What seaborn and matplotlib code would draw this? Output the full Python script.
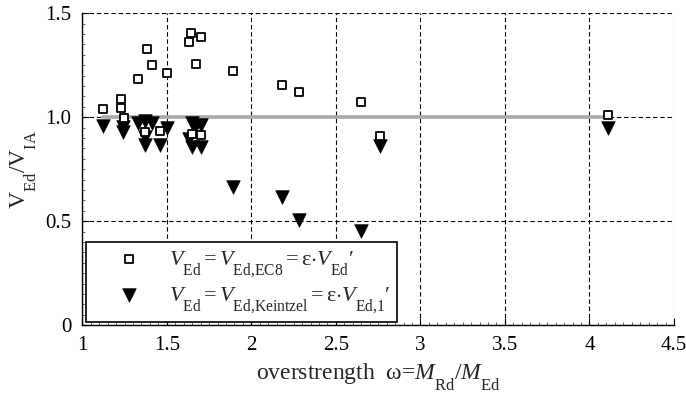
import numpy as np
import pandas as pd
import matplotlib
matplotlib.use("Agg")
import matplotlib.pyplot as plt
import matplotlib._mathtext as mtext
import seaborn as sns
from matplotlib.ticker import MultipleLocator

# data
omega_ec8 = [1.12, 1.23, 1.23, 1.245, 1.33, 1.385, 1.41, 1.50, 1.64, 1.63, 1.70, 1.67,
             1.89, 2.18, 2.28, 1.37, 1.46, 1.65, 1.70, 2.65, 2.76, 4.11]
ratio_ec8 = [1.04, 1.09, 1.045, 0.995, 1.185, 1.33, 1.25, 1.215, 1.405, 1.36, 1.385, 1.255,
             1.22, 1.155, 1.12, 0.93, 0.935, 0.92, 0.915, 1.075, 0.912, 1.01]

omega_kz = [1.125, 1.24, 1.24, 1.33, 1.37, 1.41, 1.37, 1.37, 1.46, 1.50, 1.65, 1.70,
            1.665, 1.63, 1.65, 1.70, 1.89, 2.18, 2.28, 2.65, 2.76, 4.11]
ratio_kz = [0.96, 0.952, 0.93, 0.972, 0.98, 0.972, 0.905, 0.865, 0.868, 0.948, 0.972, 0.965,
            0.955, 0.895, 0.857, 0.857, 0.666, 0.618, 0.508, 0.455, 0.86, 0.95]

x_ticks = [1, 1.5, 2, 2.5, 3, 3.5, 4, 4.5]
x_ticklabels = ["1", "1.5", "2", "2.5", "3", "3.5", "4", "4.5"]
y_ticks = [0, 0.5, 1.0, 1.5]
y_ticklabels = ["0", "0.5", "1.0", "1.5"]

lab_ec8 = r"$V_{\mathrm{Ed}}{=}V_{\mathrm{Ed{,}EC8}}{=}\mathrm{\varepsilon}{\cdot}V_{\mathrm{Ed}}$′"
lab_kz = r"$V_{\mathrm{Ed}}{=}V_{\mathrm{Ed{,}Keintzel}}{=}\mathrm{\varepsilon}{\cdot}V_{\mathrm{Ed{,}1}}$′"

df_ec8 = pd.DataFrame({"omega": omega_ec8, "ratio": ratio_ec8})
df_kz = pd.DataFrame({"omega": omega_kz, "ratio": ratio_kz})

sns.set_style("white")
plt.rcParams["font.family"] = ["Liberation Serif", "DejaVu Serif"]
plt.rcParams["mathtext.fontset"] = "custom"
plt.rcParams["mathtext.rm"] = "Liberation Serif"
plt.rcParams["mathtext.it"] = "Liberation Serif:italic"
plt.rcParams["mathtext.bf"] = "Liberation Serif:bold"
# subscripts in the reference sit lower than mathtext's default
mtext.FontConstantsBase.sub1 = 1.0

fig = plt.figure(figsize=(6.86, 4.01), dpi=100)
ax = fig.add_axes([0.120, 0.189, 0.8625, 0.778])

# reference line at 1.0 over the data range
all_x = omega_ec8 + omega_kz
ax.plot([min(all_x), max(all_x)], [1.0, 1.0], color="#aaaaaa", lw=2.6, zorder=2)

sns.scatterplot(data=df_kz, x="omega", y="ratio", marker="v", s=95, color="black",
                edgecolor="black", linewidth=0.5, label=lab_kz, ax=ax, zorder=3)
sns.scatterplot(data=df_ec8, x="omega", y="ratio", marker="s", s=30, facecolor="white",
                edgecolor="black", linewidth=1.3, label=lab_ec8, ax=ax, zorder=4)

ax.set_xlim(1, 4.5)
ax.set_ylim(0, 1.5)
ax.set_xticks(x_ticks)
ax.set_xticklabels(x_ticklabels)
ax.set_yticks(y_ticks)
ax.set_yticklabels(y_ticklabels)
ax.xaxis.set_minor_locator(MultipleLocator(0.05))
ax.yaxis.set_minor_locator(MultipleLocator(0.05))
ax.tick_params(which="major", direction="in", length=5, width=0.8, labelsize=15,
               colors="black", pad=8, bottom=True, left=True)
ax.tick_params(which="minor", direction="in", length=2, width=0.5,
               bottom=True, left=True)

ax.grid(True, which="major", linestyle=(0, (4, 2.5)), color="black", linewidth=0.8)
for side in ["top", "right"]:
    ax.spines[side].set_visible(False)
for side in ["left", "bottom"]:
    ax.spines[side].set_color("black")
    ax.spines[side].set_linewidth(1.0)

ax.set_xlabel(r"overstrength  ω=$M_{\mathrm{Rd}}/M_{\mathrm{Ed}}$", fontsize=17, labelpad=4)
ax.set_ylabel(r"$\mathrm{V}_{\mathrm{Ed}}/\mathrm{V}_{\mathrm{IA}}$", fontsize=17, labelpad=5)

handles, labels = ax.get_legend_handles_labels()
order = [labels.index(lab_ec8), labels.index(lab_kz)]
leg = ax.legend([handles[i] for i in order], [labels[i] for i in order],
                loc="lower left", bbox_to_anchor=(0.007, 0.01), fontsize=16,
                frameon=True, fancybox=False, framealpha=1, edgecolor="black",
                borderpad=0.3, labelspacing=0.3, handlelength=3.2, handletextpad=0.2,
                borderaxespad=0)
leg.get_frame().set_linewidth(1.2)
leg.set_zorder(5)

fig.savefig("out.png", dpi=100)
